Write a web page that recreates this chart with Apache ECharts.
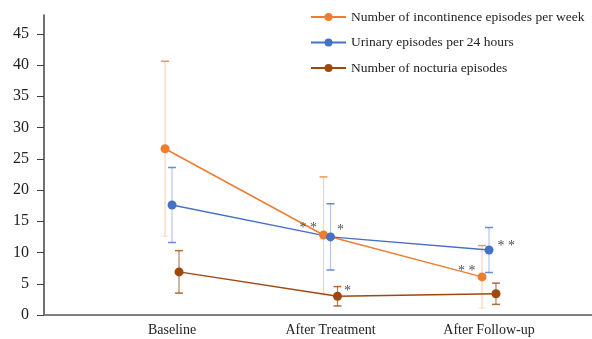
<!DOCTYPE html>
<html>
<head>
<meta charset="utf-8">
<script src="https://cdn.jsdelivr.net/npm/echarts@6/dist/echarts.min.js"></script>
<style>html,body{margin:0;padding:0;background:#fff}#c{width:592px;height:339px}</style>
</head>
<body>
<div id="c"></div>
<script>
var categories = ['Baseline', 'After Treatment', 'After Follow-up'];
var seriesNames = ['Number of incontinence episodes per week', 'Urinary episodes per 24 hours', 'Number of nocturia episodes'];
var incontinence = [26.6, 12.8, 6.1];
var incontinenceErr = [14.0, 9.3, 5.0];
var urinary = [17.6, 12.5, 10.4];
var urinaryErr = [6.0, 5.3, 3.6];
var nocturia = [6.9, 3.0, 3.4];
var nocturiaErr = [3.4, 1.55, 1.7];
var stars = [['', '* *', '* *'], ['', '*', '* *'], ['', '*', '']];
var yTicks = [0, 5, 10, 15, 20, 25, 30, 35, 40, 45];

var shift = [-0.044, 0, 0.044];
var colors = ['#ED7D31', '#4472C4', '#9E480E'];
var errColors = ['rgba(237,125,49,0.35)', 'rgba(68,114,196,0.4)', 'rgba(158,72,14,0.7)'];
var means = [incontinence, urinary, nocturia];
var errs = [incontinenceErr, urinaryErr, nocturiaErr];
var labelPos = [
  [null, {position: 'left', offset: [3, -7]}, {position: 'left', offset: [3, -6]}],
  [null, {position: 'right', offset: [-3, -7]}, {position: 'right', offset: [-1, -4]}],
  [null, {position: 'right', offset: [-3, -5]}, null]
];

var series = [];
means.forEach(function (m, s) {
  var data = m.map(function (v, i) {
    var item = {value: [i + shift[s], v]};
    if (stars[s][i]) {
      item.label = Object.assign({show: true, formatter: stars[s][i], color: '#505050', fontSize: 14, fontFamily: 'Liberation Serif'}, labelPos[s][i]);
    }
    return item;
  });
  series.push({
    name: seriesNames[s], type: 'line', data: data, symbol: 'circle', symbolSize: 9,
    itemStyle: {color: colors[s]}, lineStyle: {color: colors[s], width: 1.5}, z: 5,
    emphasis: {disabled: true}
  });
  series.push({
    type: 'custom', z: 3, silent: true,
    data: m.map(function (v, i) { return [i + shift[s], v - errs[s][i], v + errs[s][i]]; }),
    renderItem: (function (s) {
      return function (params, api) {
        var lo = api.coord([api.value(0), api.value(1)]);
        var hi = api.coord([api.value(0), api.value(2)]);
        var w = 4;
        var st = {stroke: errColors[s], lineWidth: 1.2};
        return {type: 'group', children: [
          {type: 'line', shape: {x1: lo[0], y1: lo[1], x2: hi[0], y2: hi[1]}, style: st},
          {type: 'line', shape: {x1: hi[0] - w, y1: hi[1], x2: hi[0] + w, y2: hi[1]}, style: {stroke: colors[s], lineWidth: 1.5, opacity: 0.8}},
          {type: 'line', shape: {x1: lo[0] - w, y1: lo[1], x2: lo[0] + w, y2: lo[1]}, style: {stroke: colors[s], lineWidth: 1.5, opacity: s === 0 ? 0.15 : 0.8}}
        ]};
      };
    })(s)
  });
});

var chart = echarts.init(document.getElementById('c'));
chart.setOption({
  animation: false,
  backgroundColor: '#fff',
  textStyle: {fontFamily: 'Liberation Serif'},
  grid: {left: 44, right: 0, top: 15, bottom: 24, containLabel: false},
  legend: {
    data: seriesNames, orient: 'vertical', left: 310, top: 10, itemGap: 11.5, padding: 0,
    itemWidth: 35, itemHeight: 10,
    textStyle: {fontFamily: 'Liberation Serif', fontSize: 13.5, color: '#222', padding: [0, 0, 0, 0]}
  },
  xAxis: {
    type: 'value', min: -0.808, max: 2.65,
    axisLine: {show: true, onZero: false, lineStyle: {color: '#7f7f7f', width: 2}},
    axisTick: {show: false}, splitLine: {show: false},
    axisLabel: {customValues: [0, 1, 2], formatter: function (v) { return categories[Math.round(v)]; },
      fontFamily: 'Liberation Serif', fontSize: 14, color: '#222', margin: 8}
  },
  yAxis: {
    type: 'value', min: 0, max: 48, interval: 5,
    axisLine: {show: true, onZero: false, lineStyle: {color: '#404040', width: 1.5}},
    axisTick: {show: true, length: 7, lineStyle: {color: '#404040'}, customValues: yTicks},
    splitLine: {show: false},
    axisLabel: {customValues: yTicks, fontFamily: 'Liberation Serif', fontSize: 16, color: '#222', margin: 15}
  },
  series: series
});
</script>
</body>
</html>
